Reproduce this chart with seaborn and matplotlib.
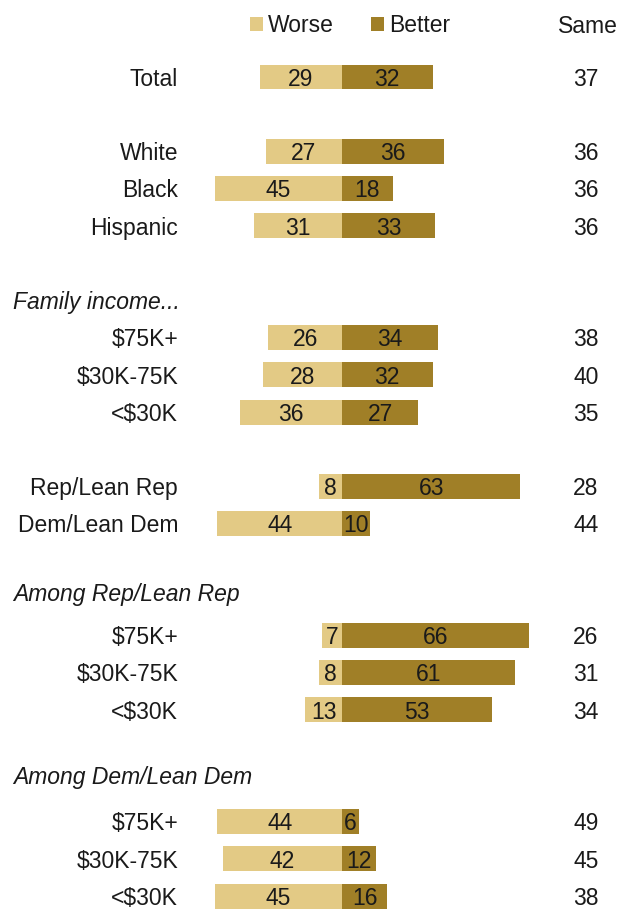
import matplotlib
matplotlib.use("Agg")
import matplotlib.pyplot as plt
import seaborn as sns
import pandas as pd

# ---- data ----
row_labels = ["Total", "White", "Black", "Hispanic",
              "$75K+", "$30K-75K", "<$30K",
              "Rep/Lean Rep", "Dem/Lean Dem",
              "$75K+", "$30K-75K", "<$30K",
              "$75K+", "$30K-75K", "<$30K"]
worse = [29, 27, 45, 31, 26, 28, 36, 8, 44, 7, 8, 13, 44, 42, 45]
better = [32, 36, 18, 33, 34, 32, 27, 63, 10, 66, 61, 53, 6, 12, 16]
same = [37, 36, 36, 36, 38, 40, 35, 28, 44, 26, 31, 34, 49, 45, 38]
headers = ["Family income...", "Among Rep/Lean Rep", "Among Dem/Lean Dem"]
series_names = ["Worse", "Better"]

# ---- layout (row slots) ----
row_slots = [0, 2, 3, 4, 7, 8, 9, 11, 12, 15, 16, 17, 20, 21, 22]
header_slots = [6, 13.85, 18.75]

light = "#E3CA85"
dark = "#A07F27"
txt = "#1a1a1a"

W, H = 627, 909
zero_px, ppu = 342, 2.83
y0_px, pps = 77, 37.23

sns.set_theme(style="white")
plt.rcParams["font.family"] = ["Liberation Sans Narrow", "Liberation Sans", "DejaVu Sans"]
fs = 16.5
dy = 0.06  # small downward nudge for text centring

fig = plt.figure(figsize=(W / 100, H / 100), dpi=100)
ax = fig.add_axes([0, 0, 1, 1])

df = pd.DataFrame({
    "value": [-w for w in worse] + list(better),
    "pos": row_slots + row_slots,
    "series": [series_names[0]] * len(worse) + [series_names[1]] * len(better),
})

sns.barplot(data=df, x="value", y="pos", hue="series", orient="h",
            native_scale=True, dodge=False, width=0.67,
            palette={"Worse": light, "Better": dark}, saturation=1,
            linewidth=0, ax=ax, legend=True)

ax.set_xlim(-zero_px / ppu, (W - zero_px) / ppu)
ax.set_ylim(row_slots[-1] + (H - y0_px - row_slots[-1] * pps) / pps, -y0_px / pps)

for cont, vals in zip(ax.containers, [worse, better]):
    for bar, v in zip(cont, vals):
        cx = bar.get_x() + bar.get_width() / 2
        cy = bar.get_y() + bar.get_height() / 2
        ax.text(cx, cy + dy, str(v), ha="center", va="center",
                fontsize=fs, color=txt)

def px2x(px):
    return (px - zero_px) / ppu

for lab, s, v in zip(row_labels, row_slots, same):
    ax.text(px2x(178), s + dy, lab, ha="right", va="center", fontsize=fs, color=txt)
    ax.text(px2x(586), s + dy, str(v), ha="center", va="center", fontsize=fs, color=txt)

for h, s in zip(headers, header_slots):
    ax.text(px2x(13), s + dy, h, ha="left", va="center", fontsize=fs,
            style="italic", color=txt)

ax.text(px2x(588), (24 - y0_px) / pps + dy, "Same", ha="center", va="center",
        fontsize=fs, color=txt)

handles, labels = ax.get_legend_handles_labels()
ax.legend(handles, labels, ncol=2, loc="center",
          bbox_to_anchor=(350 / W, 1 - 26 / H), frameon=False,
          handlelength=0.57, handleheight=0.57, handletextpad=0.22,
          columnspacing=1.6, fontsize=fs, labelcolor=txt)

ax.set_axis_off()
fig.savefig("out.png", dpi=100)
